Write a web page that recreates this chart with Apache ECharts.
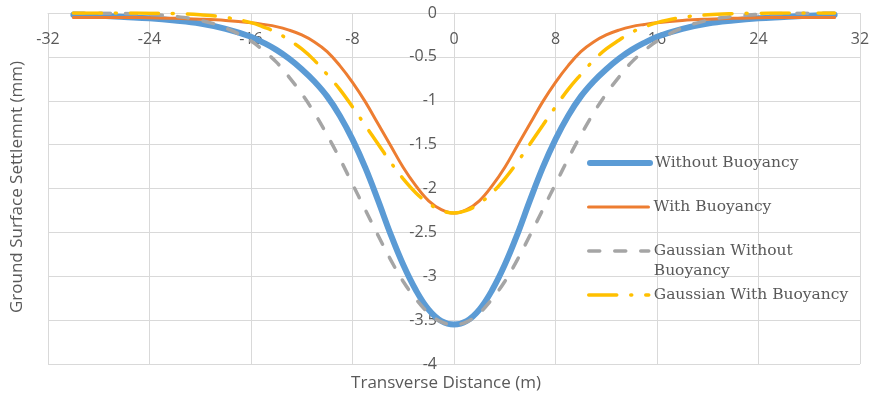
<!DOCTYPE html>
<html>
<head>
<meta charset="utf-8">
<script src="https://cdn.jsdelivr.net/npm/echarts@6/dist/echarts.min.js"></script>
<style>html,body{margin:0;padding:0;background:#fff}#c{width:875px;height:398px}</style>
</head>
<body>
<div id="c"></div>
<script>
var xValues = [-30,-28,-26,-24,-22,-20,-18,-16,-15,-14,-13,-12,-11,-10,-9,-8,-7,-6,-5,-4,-3,-2,-1,0,1,2,3,4,5,6,7,8,9,10,11,12,13,14,15,16,18,20,22,24,26,28,30];
var withoutBuoyancy = [-0.02,-0.03,-0.045,-0.06,-0.085,-0.12,-0.18,-0.27,-0.34,-0.42,-0.52,-0.64,-0.78,-0.95,-1.17,-1.44,-1.76,-2.13,-2.52,-2.87,-3.16,-3.38,-3.51,-3.55,-3.51,-3.38,-3.16,-2.87,-2.52,-2.13,-1.76,-1.44,-1.17,-0.95,-0.78,-0.64,-0.52,-0.42,-0.34,-0.27,-0.18,-0.12,-0.085,-0.06,-0.045,-0.03,-0.02];
var withBuoyancy = [-0.05,-0.05,-0.05,-0.055,-0.06,-0.07,-0.085,-0.11,-0.13,-0.155,-0.195,-0.25,-0.33,-0.44,-0.60,-0.79,-1.01,-1.26,-1.51,-1.76,-1.97,-2.14,-2.24,-2.28,-2.24,-2.14,-1.97,-1.76,-1.51,-1.26,-1.01,-0.79,-0.60,-0.44,-0.33,-0.25,-0.195,-0.155,-0.13,-0.11,-0.085,-0.07,-0.06,-0.055,-0.05,-0.05,-0.05];
var gaussianWithout = [-0.001,-0.002,-0.006,-0.016,-0.038,-0.083,-0.17,-0.32,-0.43,-0.56,-0.73,-0.92,-1.14,-1.39,-1.66,-1.95,-2.24,-2.53,-2.81,-3.06,-3.26,-3.42,-3.52,-3.55,-3.52,-3.42,-3.26,-3.06,-2.81,-2.53,-2.24,-1.95,-1.66,-1.39,-1.14,-0.92,-0.73,-0.56,-0.43,-0.32,-0.17,-0.083,-0.038,-0.016,-0.006,-0.002,-0.001];
var gaussianWith = [0,0,-0.001,-0.002,-0.007,-0.02,-0.05,-0.11,-0.16,-0.22,-0.31,-0.41,-0.54,-0.70,-0.87,-1.07,-1.28,-1.49,-1.70,-1.89,-2.05,-2.17,-2.25,-2.28,-2.25,-2.17,-2.05,-1.89,-1.70,-1.49,-1.28,-1.07,-0.87,-0.70,-0.54,-0.41,-0.31,-0.22,-0.16,-0.11,-0.05,-0.02,-0.007,-0.002,-0.001,0,0];
var seriesNames = ['Without Buoyancy','With Buoyancy','Gaussian Without Buoyancy','Gaussian With Buoyancy'];
var xAxisTitle = 'Transverse Distance (m)';
var yAxisTitle = 'Ground Surface Settlemnt (mm)';

function pairs(ys){ return xValues.map(function(x,i){ return [x, ys[i]]; }); }

var textColor = '#595959';
var gridColor = '#d9d9d9';
var sansFont = 'Open Sans';
var serifFont = 'DejaVu Serif';
var gridLeft = 48, gridRight = 15, chartWidth = 875;
var colors = ['#5B9BD5','#ED7D31','#A5A5A5','#FFC000'];
var lineStyles = [
  {width: 6, color: colors[0], cap: 'round', type: 'solid'},
  {width: 3, color: colors[1], cap: 'round', type: 'solid'},
  {width: 3.5, color: colors[2], type: [11, 15], cap: 'round'},
  {width: 3.5, color: colors[3], type: [28, 14, 1, 14], cap: 'round'}
];

function legendAt(idx, top){
  var name = seriesNames[idx];
  return {
    data: [name], orient: 'vertical', left: 587, top: top, padding: 0,
    itemWidth: 60, itemHeight: 14, itemGap: 0,
    itemStyle: {color: 'rgba(0,0,0,0)', borderColor: 'rgba(0,0,0,0)', borderWidth: 0, opacity: 0},
    lineStyle: {width: lineStyles[idx].width, color: colors[idx], type: lineStyles[idx].type, cap: lineStyles[idx].cap},
    formatter: function(n){ return n === 'Gaussian Without Buoyancy' ? '\nGaussian Without\nBuoyancy' : n; },
    textStyle: {fontFamily: serifFont, fontSize: 15.5, color: textColor, lineHeight: 20}
  };
}

var chart = echarts.init(document.getElementById('c'), null, {renderer: 'canvas'});
var plotWidth = chartWidth - gridLeft - gridRight;
chart.setOption({
  animation: false,
  color: colors,
  grid: {left: gridLeft, right: gridRight, top: 13, bottom: 34},
  xAxis: {
    type: 'value', min: -32, max: 32, interval: 8, position: 'top',
    axisLine: {show: true, onZero: false, lineStyle: {color: gridColor, width: 1}},
    axisTick: {show: false},
    splitLine: {show: true, lineStyle: {color: gridColor, width: 1}},
    axisLabel: {inside: true, color: textColor, fontFamily: sansFont, fontSize: 16, margin: 18}
  },
  yAxis: {
    type: 'value', min: -4, max: 0, interval: 0.5, position: 'left', offset: -plotWidth / 2,
    axisLine: {show: true, onZero: false, lineStyle: {color: gridColor, width: 1}},
    axisTick: {show: false},
    splitLine: {show: true, lineStyle: {color: gridColor, width: 1}},
    axisLabel: {color: textColor, fontFamily: sansFont, fontSize: 16, margin: 17}
  },
  legend: [legendAt(0, 153), legendAt(1, 197), legendAt(2, 221), legendAt(3, 285)],
  graphic: [
    {type: 'text', x: 446, y: 383, style: {text: xAxisTitle, fill: textColor, font: '17px "Open Sans"', align: 'center', verticalAlign: 'middle'}},
    {type: 'text', x: 17, y: 187, rotation: Math.PI/2, style: {text: yAxisTitle, fill: textColor, font: '17px "Open Sans"', align: 'center', verticalAlign: 'middle'}}
  ],
  series: seriesNames.map(function(name, i){
    var vals = [withoutBuoyancy, withBuoyancy, gaussianWithout, gaussianWith][i];
    return {name: name, type: 'line', data: pairs(vals), smooth: 0.4, symbol: 'none', lineStyle: lineStyles[i]};
  })
});
</script>
</body>
</html>
